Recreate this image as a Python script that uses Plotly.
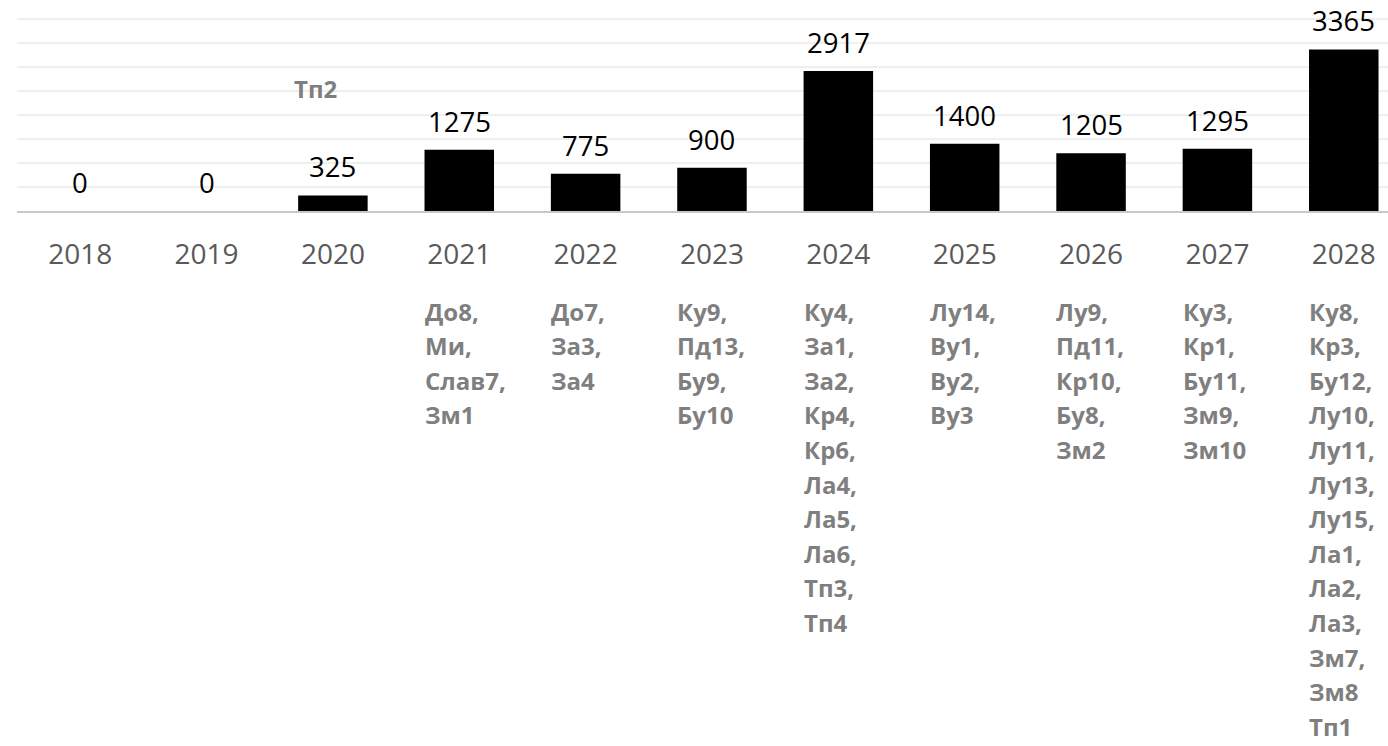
import plotly.graph_objects as go

years = ["2018", "2019", "2020", "2021", "2022", "2023", "2024", "2025", "2026", "2027", "2028"]
values = [0, 0, 325, 1275, 775, 900, 2917, 1400, 1205, 1295, 3365]
items_below = [
    [], [], [],
    ["До8,", "Ми,", "Слав7,", "Зм1"],
    ["До7,", "За3,", "За4"],
    ["Ку9,", "Пд13,", "Бу9,", "Бу10"],
    ["Ку4,", "За1,", "За2,", "Кр4,", "Кр6,", "Ла4,", "Ла5,", "Ла6,", "Тп3,", "Тп4"],
    ["Лу14,", "Ву1,", "Ву2,", "Ву3"],
    ["Лу9,", "Пд11,", "Кр10,", "Бу8,", "Зм2"],
    ["Ку3,", "Кр1,", "Бу11,", "Зм9,", "Зм10"],
    ["Ку8,", "Кр3,", "Бу12,", "Лу10,", "Лу11,", "Лу13,", "Лу15,", "Ла1,", "Ла2,", "Ла3,", "Зм7,", "Зм8", "Тп1"],
]
above_label = {"2020": ("Тп2", 2560)}

W, H = 1388, 746
BAR_W = 0.55
xs = list(range(len(years)))

fig = go.Figure()
fig.add_trace(go.Bar(x=xs, y=values, width=BAR_W, marker=dict(color="#000000", line=dict(width=0)),
                     hoverinfo="skip"))

ann = []
for i, v in enumerate(values):
    ann.append(dict(x=i, y=v, xref="x", yref="y", text=str(v), showarrow=False,
                    xanchor="center", yanchor="bottom", yshift=8,
                    font=dict(family="Open Sans", size=27.5, color="#000000")))
line_h = 34.6
for i, lines in enumerate(items_below):
    for k, t in enumerate(lines):
        ann.append(dict(x=i - BAR_W / 2, y=0, xref="x", yref="paper", text=t, showarrow=False,
                        xanchor="left", yanchor="middle", yshift=-(100 + k * line_h), xshift=-2,
                        font=dict(family="Open Sans", size=24, color="#7f7f7f", weight="bold")))
for yr, (t, yv) in above_label.items():
    i = years.index(yr)
    ann.append(dict(x=i - BAR_W / 2, y=yv, xref="x", yref="y", text=t, showarrow=False,
                    xanchor="left", yanchor="middle", xshift=-6,
                    font=dict(family="Open Sans", size=24, color="#7f7f7f", weight="bold")))

fig.update_layout(
    width=W, height=H,
    margin=dict(l=17, r=0, t=0, b=535),
    paper_bgcolor="white", plot_bgcolor="white",
    showlegend=False,
    annotations=ann,
    xaxis=dict(range=[-0.5, 10.35], tickmode="array", tickvals=xs, ticktext=years,
               showgrid=False, zeroline=False, showline=True, linecolor="#c8c8c8", linewidth=2,
               ticks="", ticklabelstandoff=17,
               tickfont=dict(family="Open Sans", size=28, color="#595959")),
    yaxis=dict(range=[0, 4396], dtick=500, tick0=0, showgrid=True, gridcolor="#efefef", gridwidth=1.5,
               zeroline=False, showticklabels=False, ticks=""),
)

fig.write_html("out.html")
